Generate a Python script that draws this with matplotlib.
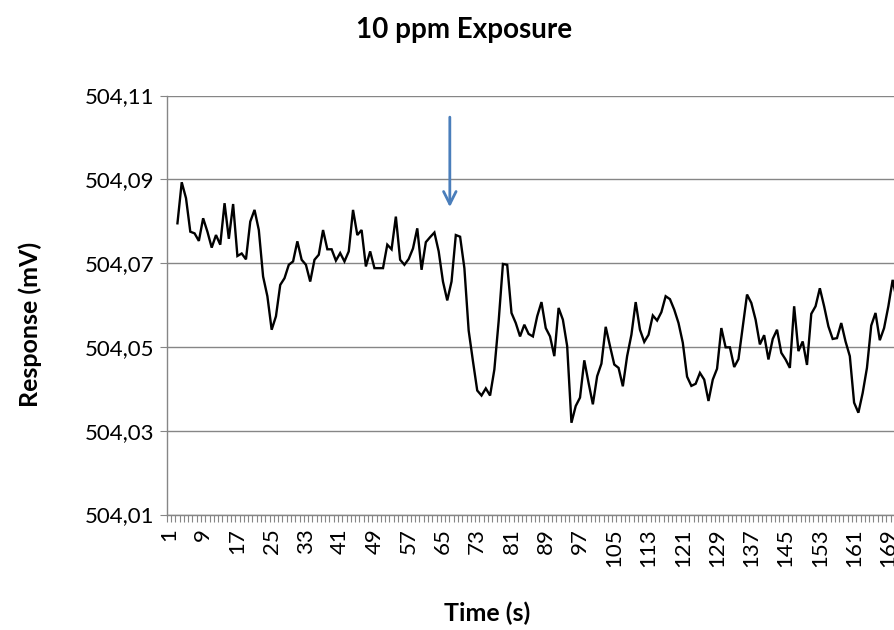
import matplotlib.pyplot as plt
from matplotlib.ticker import FixedLocator, FuncFormatter

# time index (categories) and sensor response in mV
first_time = 3
response = [
    504.0795, 504.0893, 504.0855, 504.0775, 504.0771, 504.0753, 504.0807, 504.0775,
    504.0737, 504.0767, 504.0744, 504.0843, 504.0758, 504.0841, 504.0717, 504.0723,
    504.0709, 504.0799, 504.0827, 504.0779, 504.0668, 504.0621, 504.0541, 504.0573,
    504.0648, 504.0664, 504.0696, 504.0704, 504.0752, 504.0708, 504.0696, 504.0656,
    504.0708, 504.0720, 504.0779, 504.0733, 504.0733, 504.0706, 504.0724, 504.0704,
    504.0728, 504.0827, 504.0767, 504.0779, 504.0692, 504.0728, 504.0688, 504.0688,
    504.0688, 504.0744, 504.0733, 504.0811, 504.0708, 504.0696, 504.0710, 504.0735,
    504.0783, 504.0684, 504.0750, 504.0762, 504.0773, 504.0728, 504.0656, 504.0611,
    504.0656, 504.0767, 504.0763, 504.0688, 504.0539, 504.0466, 504.0396, 504.0384,
    504.0401, 504.0384, 504.0446, 504.0561, 504.0698, 504.0696, 504.0581, 504.0557,
    504.0525, 504.0553, 504.0531, 504.0525, 504.0573, 504.0607, 504.0545, 504.0525,
    504.0478, 504.0593, 504.0565, 504.0502, 504.0319, 504.0359, 504.0379, 504.0468,
    504.0414, 504.0363, 504.0430, 504.0460, 504.0548, 504.0502, 504.0458, 504.0450,
    504.0406, 504.0478, 504.0529, 504.0607, 504.0541, 504.0512, 504.0529, 504.0575,
    504.0563, 504.0583, 504.0621, 504.0614, 504.0589, 504.0557, 504.0510, 504.0429,
    504.0407, 504.0412, 504.0438, 504.0422, 504.0371, 504.0422, 504.0448, 504.0545,
    504.0499, 504.0499, 504.0452, 504.0471, 504.0549, 504.0625, 504.0605, 504.0565,
    504.0506, 504.0528, 504.0470, 504.0519, 504.0541, 504.0486, 504.0470, 504.0450,
    504.0597, 504.0490, 504.0513, 504.0457, 504.0579, 504.0597, 504.0640, 504.0597,
    504.0549, 504.0519, 504.0521, 504.0557, 504.0513, 504.0478, 504.0367, 504.0343,
    504.0390, 504.0450, 504.0551, 504.0581, 504.0516, 504.0545, 504.0597, 504.0660,
    504.0610,
]
time = list(range(first_time, first_time + len(response)))

tick_labels = [str(t) for t in range(1, 170, 8)]
y_ticks = [504.01, 504.03, 504.05, 504.07, 504.09, 504.11]

# exposure marker
arrow_time = 66.6
arrow_top = 504.1055
arrow_tip = 504.0827

plt.rcParams["font.family"] = ["Lato", "DejaVu Sans"]

fig = plt.figure(figsize=(8.95, 6.3), dpi=100)
ax = fig.add_axes([0.1863, 0.1833, 0.8137, 0.6651])

ax.plot(time, response, color="black", lw=1.7, solid_joinstyle="miter", zorder=3)

ax.set_xlim(0.5, 170.55)
ax.set_ylim(504.01, 504.11)

ax.xaxis.set_major_locator(FixedLocator([int(t) for t in tick_labels]))
ax.set_xticklabels(tick_labels, rotation=90)
ax.xaxis.set_minor_locator(FixedLocator([i + 0.5 for i in range(0, 171)]))
ax.tick_params(axis="x", which="major", length=0, pad=10, labelsize=16)
ax.tick_params(axis="x", which="minor", length=5, width=0.8, color="#868686", direction="out")

ax.set_yticks(y_ticks)
ax.yaxis.set_major_formatter(FuncFormatter(lambda v, _: f"{v:.2f}".replace(".", ",")))
ax.tick_params(axis="y", length=5, width=0.8, color="#868686", labelsize=16, pad=4)
ax.grid(axis="y", color="#868686", lw=1)

for side in ["top", "right"]:
    ax.spines[side].set_visible(False)
for side in ["left", "bottom"]:
    ax.spines[side].set_color("#868686")
    ax.spines[side].set_linewidth(1)

ax.annotate(
    "",
    xy=(arrow_time, arrow_tip),
    xytext=(arrow_time, arrow_top),
    arrowprops=dict(arrowstyle="->,head_length=0.9,head_width=0.45", color="#4a7ebb", lw=2),
    zorder=4,
)

fig.text(0.518, 0.952, "10 ppm Exposure", ha="center", va="center", fontsize=20, fontweight="bold")
fig.text(0.034, 0.485, "Response (mV)", ha="center", va="center", rotation=90,
         fontsize=18, fontweight="bold")
fig.text(0.544, 0.027, "Time (s)", ha="center", va="center", fontsize=18, fontweight="bold")

fig.savefig("out.png", dpi=100)
